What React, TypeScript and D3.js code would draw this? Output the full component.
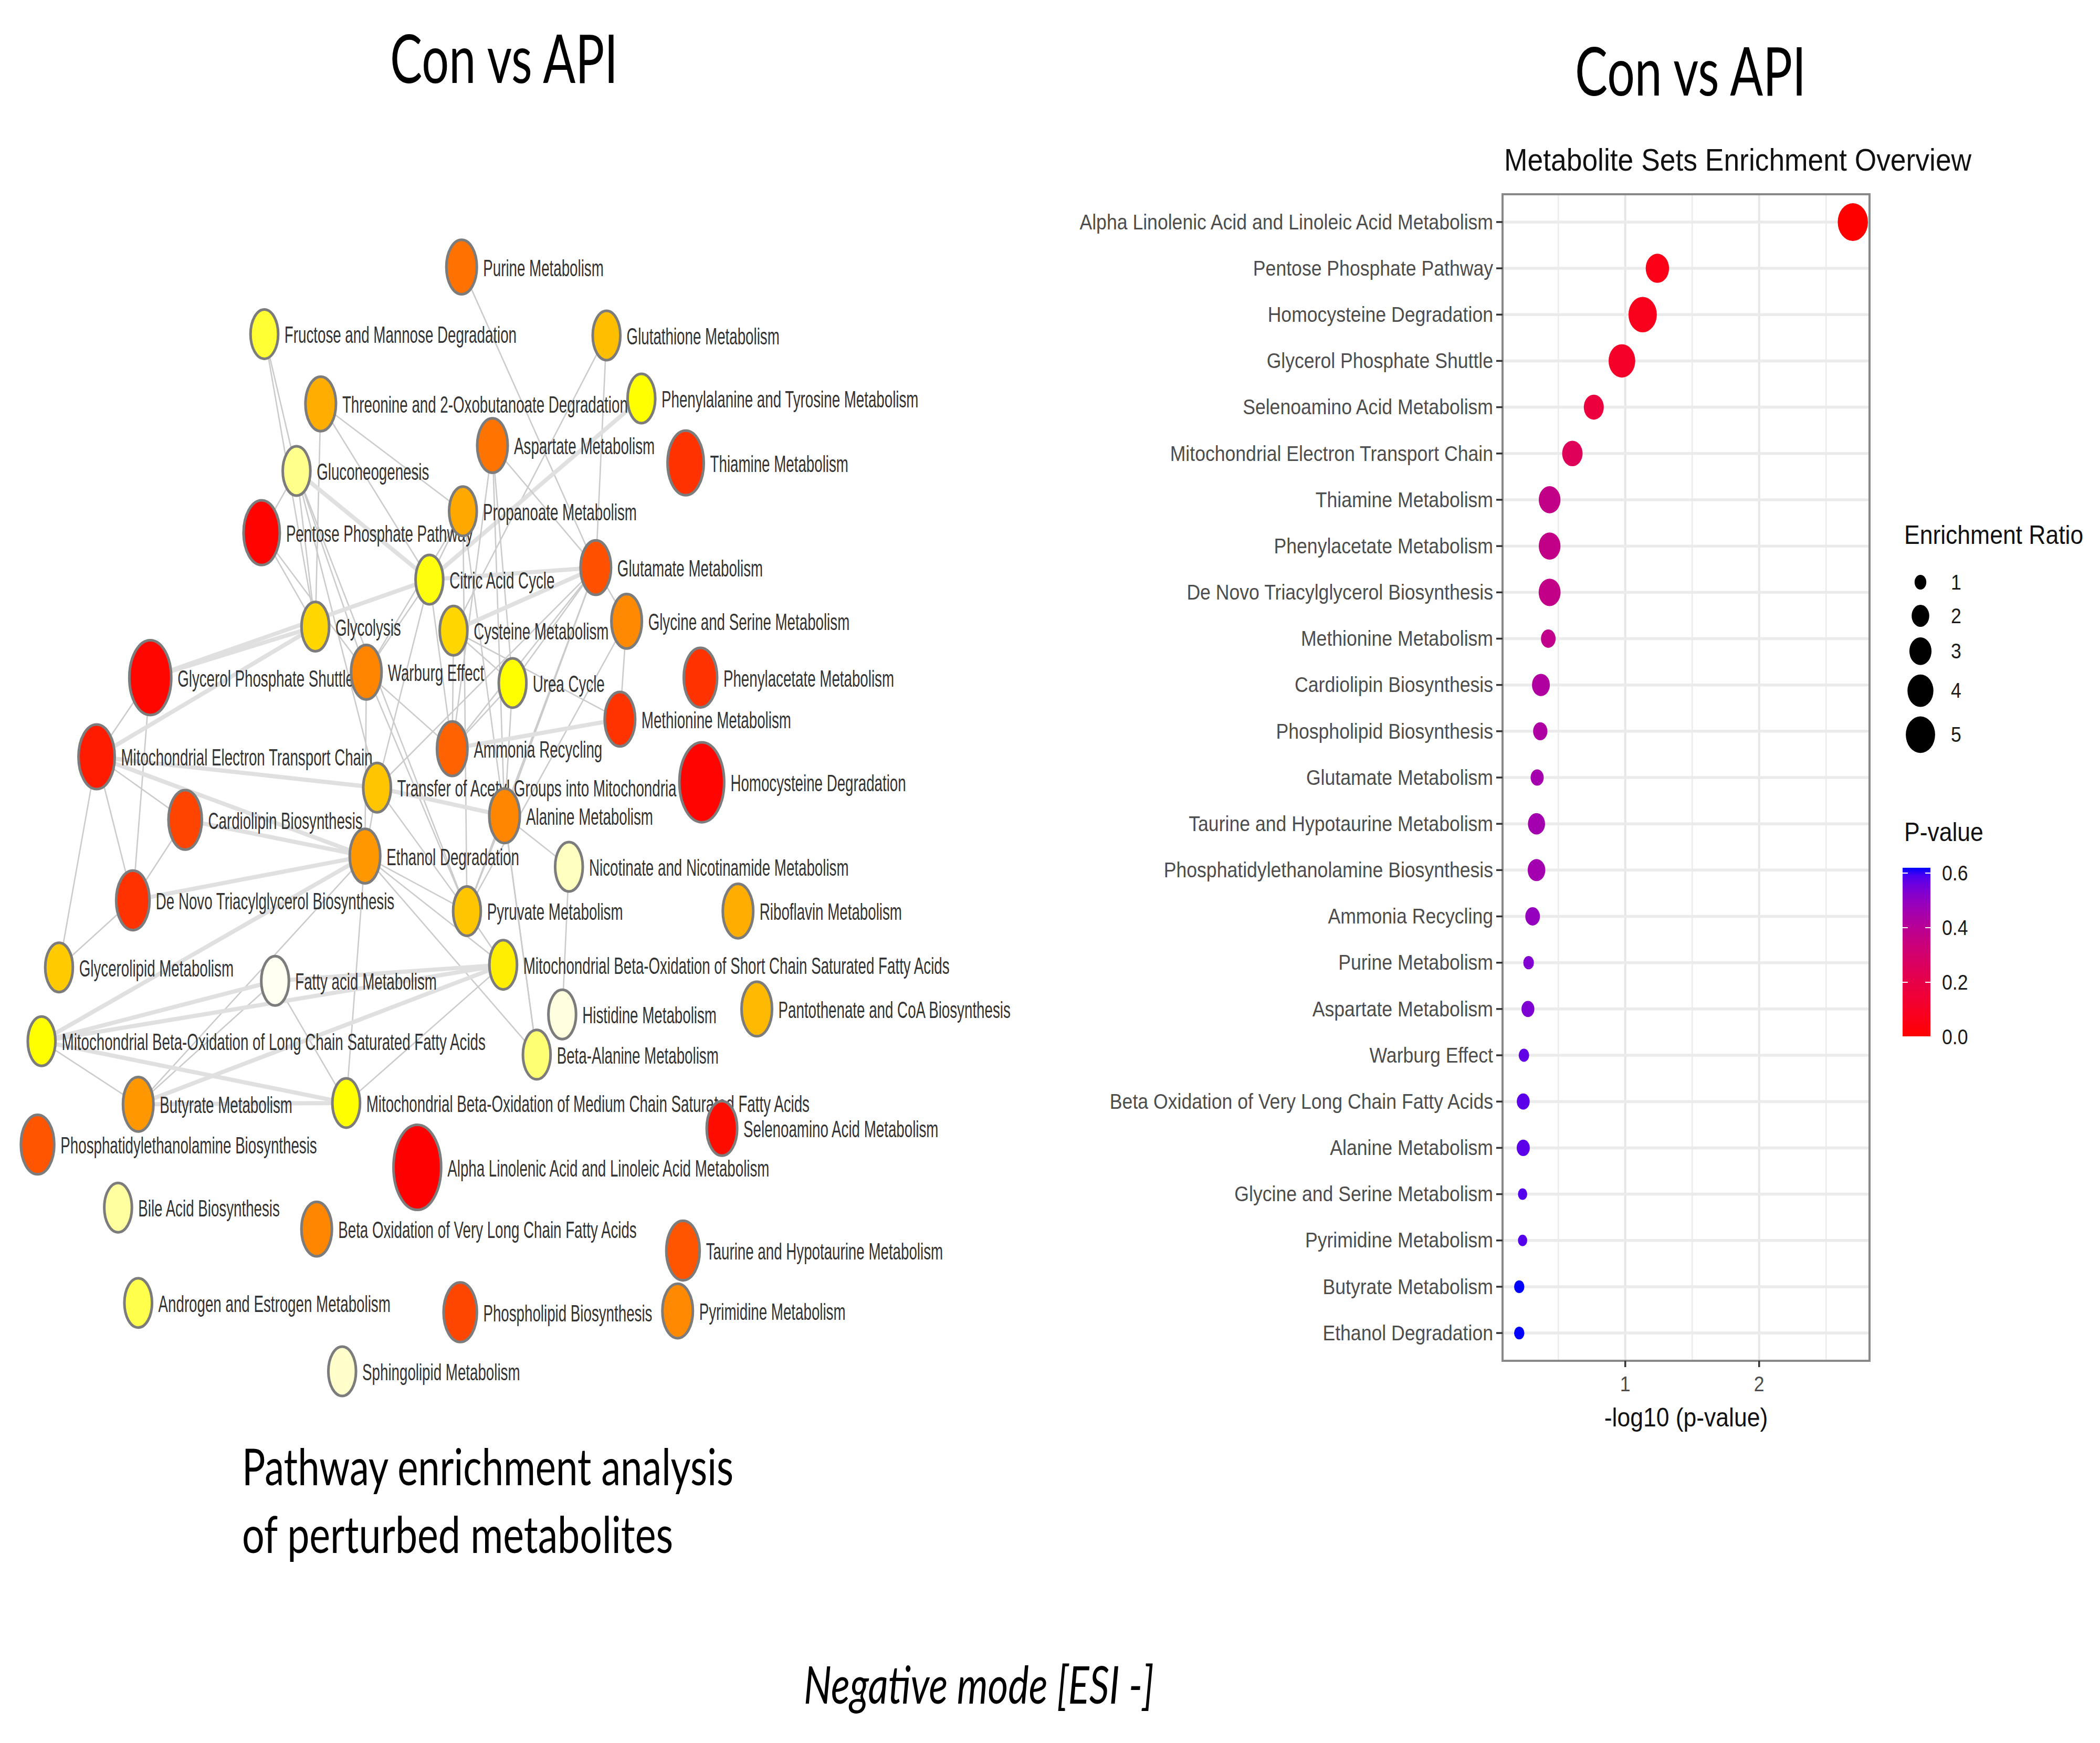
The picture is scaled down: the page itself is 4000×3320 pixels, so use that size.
import * as d3 from "d3";
import React from "react";

const W = 4000;
const H = 3320;

// ---------------- right: metabolite sets enrichment overview ----------------
const pathways = [
  "Alpha Linolenic Acid and Linoleic Acid Metabolism",
  "Pentose Phosphate Pathway",
  "Homocysteine Degradation",
  "Glycerol Phosphate Shuttle",
  "Selenoamino Acid Metabolism",
  "Mitochondrial Electron Transport Chain",
  "Thiamine Metabolism",
  "Phenylacetate Metabolism",
  "De Novo Triacylglycerol Biosynthesis",
  "Methionine Metabolism",
  "Cardiolipin Biosynthesis",
  "Phospholipid Biosynthesis",
  "Glutamate Metabolism",
  "Taurine and Hypotaurine Metabolism",
  "Phosphatidylethanolamine Biosynthesis",
  "Ammonia Recycling",
  "Purine Metabolism",
  "Aspartate Metabolism",
  "Warburg Effect",
  "Beta Oxidation of Very Long Chain Fatty Acids",
  "Alanine Metabolism",
  "Glycine and Serine Metabolism",
  "Pyrimidine Metabolism",
  "Butyrate Metabolism",
  "Ethanol Degradation",
];
const negLog10P = [
  2.7, 1.24, 1.13, 0.975, 0.765, 0.605, 0.435, 0.435, 0.435, 0.425, 0.37, 0.365, 0.342,
  0.337, 0.337, 0.308, 0.278, 0.273, 0.243, 0.238, 0.238, 0.233, 0.233, 0.208, 0.208,
];
const enrichmentRatio = [
  5.3, 3.3, 4.7, 4.2, 2.5, 2.6, 2.9, 2.9, 2.95, 1.45, 2.05, 1.4, 1.2, 1.9, 2.0, 1.45, 0.85,
  1.17, 0.83, 1.17, 1.2, 0.68, 0.68, 0.8, 0.8,
];
const sizeBreaks = [1, 2, 3, 4, 5];
const pBreaks = [0, 0.2, 0.4, 0.6];
const xMajor = [1, 2];
const xMinor = [0.5, 1.5, 2.5];

// ---------------- left: pathway network ----------------
// [id, label, layout x, layout y, hits]
const netNodes: [string, string, number, number, number][] = [
  ["pur", "Purine Metabolism", 344, 199, 2],
  ["fru", "Fructose and Mannose Degradation", 197, 249, 1],
  ["gth", "Glutathione Metabolism", 452, 250, 1],
  ["thr", "Threonine and 2-Oxobutanoate Degradation", 239, 301, 2],
  ["phe", "Phenylalanine and Tyrosine Metabolism", 478, 297, 1],
  ["asp", "Aspartate Metabolism", 367, 332, 2],
  ["thi", "Thiamine Metabolism", 511, 345, 4],
  ["gng", "Gluconeogenesis", 221, 351, 1],
  ["ppp", "Pentose Phosphate Pathway", 195, 397, 4],
  ["pro", "Propanoate Metabolism", 345, 381, 1],
  ["tca", "Citric Acid Cycle", 320, 432, 1],
  ["glu", "Glutamate Metabolism", 444, 423, 2],
  ["gly", "Glycolysis", 235, 467, 1],
  ["cys", "Cysteine Metabolism", 338, 470, 1],
  ["gls", "Glycine and Serine Metabolism", 467, 463, 2],
  ["gps", "Glycerol Phosphate Shuttle", 112, 505, 6],
  ["war", "Warburg Effect", 273, 501, 2],
  ["ure", "Urea Cycle", 382, 509, 1],
  ["pac", "Phenylacetate Metabolism", 522, 505, 3],
  ["met", "Methionine Metabolism", 462, 536, 2],
  ["etc", "Mitochondrial Electron Transport Chain", 72, 564, 4],
  ["amm", "Ammonia Recycling", 337, 558, 2],
  ["hcy", "Homocysteine Degradation", 523, 583, 7],
  ["tac", "Transfer of Acetyl Groups into Mitochondria", 281, 587, 1],
  ["cl", "Cardiolipin Biosynthesis", 138, 611, 3],
  ["ala", "Alanine Metabolism", 376, 608, 2],
  ["eth", "Ethanol Degradation", 272, 638, 2],
  ["nic", "Nicotinate and Nicotinamide Metabolism", 424, 646, 1],
  ["dnt", "De Novo Triacylglycerol Biosynthesis", 99, 671, 3],
  ["pyr", "Pyruvate Metabolism", 348, 679, 1],
  ["rib", "Riboflavin Metabolism", 550, 679, 2],
  ["glp", "Glycerolipid Metabolism", 44, 721, 1],
  ["fam", "Fatty acid Metabolism", 205, 731, 1],
  ["mbs", "Mitochondrial Beta-Oxidation of Short Chain Saturated Fatty Acids", 375, 719, 1],
  ["his", "Histidine Metabolism", 419, 756, 1],
  ["pan", "Pantothenate and CoA Biosynthesis", 564, 752, 2],
  ["mbl", "Mitochondrial Beta-Oxidation of Long Chain Saturated Fatty Acids", 31, 776, 1],
  ["bal", "Beta-Alanine Metabolism", 400, 786, 1],
  ["but", "Butyrate Metabolism", 103, 823, 2],
  ["mbm", "Mitochondrial Beta-Oxidation of Medium Chain Saturated Fatty Acids", 258, 822, 1],
  ["sel", "Selenoamino Acid Metabolism", 538, 841, 2],
  ["pe", "Phosphatidylethanolamine Biosynthesis", 28, 853, 3],
  ["aln", "Alpha Linolenic Acid and Linoleic Acid Metabolism", 311, 870, 8],
  ["bil", "Bile Acid Biosynthesis", 88, 900, 1],
  ["vlc", "Beta Oxidation of Very Long Chain Fatty Acids", 236, 916, 2],
  ["tau", "Taurine and Hypotaurine Metabolism", 509, 932, 3],
  ["and", "Androgen and Estrogen Metabolism", 103, 971, 1],
  ["pl", "Phospholipid Biosynthesis", 343, 978, 3],
  ["pym", "Pyrimidine Metabolism", 505, 977, 2],
  ["sph", "Sphingolipid Metabolism", 255, 1022, 1],
];

// p-values of network pathways that are not in the overview list
const otherP: Record<string, number> = {
  fru: 0.84, gth: 0.69, thr: 0.66, phe: 0.8, gng: 0.91, pro: 0.65, tca: 0.81, gly: 0.73,
  cys: 0.73, ure: 0.8, tac: 0.7, nic: 0.95, pyr: 0.7, rib: 0.66, glp: 0.71, fam: 0.99,
  mbs: 0.77, his: 0.975, pan: 0.68, mbl: 0.8, bal: 0.89, mbm: 0.8, bil: 0.925, and: 0.86,
  sph: 0.96,
};

// [source, target, weight]
const netEdges: [string, string, number][] = [
  ["pur", "glu", 1], ["fru", "gly", 1], ["fru", "gng", 1], ["gth", "glu", 1], ["gth", "cys", 1],
  ["thr", "tca", 1], ["thr", "pro", 1], ["thr", "gly", 1], ["phe", "tca", 2],
  ["asp", "glu", 1], ["asp", "amm", 1], ["asp", "ala", 1], ["asp", "ure", 1],
  ["gng", "gly", 1], ["gng", "war", 1], ["gng", "tca", 2], ["gng", "pyr", 1], ["gng", "tac", 1],
  ["ppp", "gly", 1], ["ppp", "war", 1], ["ppp", "gng", 1],
  ["pro", "tca", 1], ["pro", "pyr", 1], ["pro", "war", 1], ["pro", "bal", 1],
  ["tca", "glu", 2], ["tca", "war", 1], ["tca", "gps", 2], ["tca", "tac", 1], ["tca", "amm", 1],
  ["glu", "cys", 2], ["glu", "ure", 1], ["glu", "amm", 1], ["glu", "ala", 1], ["glu", "gls", 1],
  ["glu", "tac", 1], ["glu", "pyr", 1], ["cys", "met", 1], ["cys", "ure", 1], ["cys", "amm", 1],
  ["gls", "met", 1], ["gls", "pyr", 1], ["gps", "etc", 1], ["gps", "dnt", 1], ["gps", "gly", 2],
  ["war", "eth", 1], ["war", "pyr", 1], ["war", "amm", 1], ["ure", "amm", 1], ["ure", "ala", 1],
  ["met", "amm", 2], ["etc", "cl", 1], ["etc", "dnt", 1], ["etc", "glp", 1], ["etc", "tac", 2],
  ["etc", "eth", 2], ["etc", "gly", 2], ["cl", "eth", 2], ["cl", "dnt", 1],
  ["tac", "ala", 2], ["tac", "pyr", 1], ["tac", "eth", 1], ["ala", "nic", 1], ["ala", "bal", 1],
  ["ala", "pyr", 1], ["eth", "pyr", 1], ["eth", "mbs", 1], ["eth", "mbl", 2], ["eth", "but", 1],
  ["eth", "mbm", 1], ["eth", "bal", 1], ["eth", "dnt", 2], ["nic", "his", 1], ["dnt", "glp", 1],
  ["fam", "mbs", 2], ["fam", "mbl", 2], ["fam", "but", 1], ["fam", "mbm", 1],
  ["mbs", "mbl", 2], ["mbs", "but", 2], ["mbs", "mbm", 1], ["mbs", "pyr", 1],
  ["mbl", "but", 1], ["mbl", "mbm", 2], ["but", "mbm", 2],
];

const calibriLike = "Lato, 'Open Sans', sans-serif";
const arialLike = "'Liberation Sans', Arial, Helvetica, sans-serif";

export default function App() {
  // ----- overview scales -----
  const panel = { left: 2862, right: 3561, top: 370, bottom: 2592 };
  const [vMin, vMax] = d3.extent(negLog10P) as [number, number];
  const pad = (vMax - vMin) * 0.05;
  const x = d3.scaleLinear().domain([vMin - pad, vMax + pad]).range([panel.left, panel.right]);
  const y = d3.scalePoint<string>().domain(pathways).range([panel.top, panel.bottom]).padding(0.6);
  const pValues = negLog10P.map((v) => Math.pow(10, -v));
  const [pMin, pMax] = d3.extent(pValues) as [number, number];
  const pColor = d3
    .scalePow<string>()
    .exponent(1.35)
    .domain([pMin, pMax])
    .range(["#ff0000", "#0000ff"])
    .interpolate(d3.interpolateLab)
    .clamp(true);
  const sqrtExtent = d3.extent(enrichmentRatio.map(Math.sqrt)) as [number, number];
  const rScale = d3.scaleLinear().domain(sqrtExtent).range([11, 36]);
  const dotR = (e: number) => rScale(Math.sqrt(e));
  const squeeze = 0.89;
  const dotAspect = 0.8;

  // legend
  const legendX = 3627;
  const keyHeights = sizeBreaks.map((b) => Math.max(64, 2 * dotR(b) + 18));
  const keyY: number[] = [];
  sizeBreaks.forEach((_, i) => {
    keyY.push(i === 0 ? 1109 : keyY[i - 1] + (keyHeights[i - 1] + keyHeights[i]) / 2);
  });
  const barY = d3.scaleLinear().domain([0, 0.6]).range([1975, 1663]);
  const barX0 = 3624;
  const barW = 53;
  const gradStops = d3.range(0, 1.0001, 0.05);

  // ----- network scales -----
  const nx = d3.scaleLinear().domain([0, 1565]).range([0, W]);
  const ny = d3.scaleLinear().domain([0, 1299]).range([0, H]);
  const ryScale = d3.scaleLinear().domain([1, 8]).range([47, 81]);
  const netColor = d3
    .scaleLinear<string>()
    .domain([0, 0.15, 0.4, 0.5, 0.63, 0.8, 1])
    .range(["#ff0000", "#ff0800", "#ff3800", "#ff6600", "#ff9c00", "#ffff00", "#ffffff"]);
  const overviewP = new Map(pathways.map((p, i) => [p, pValues[i]]));
  const nodes = netNodes.map(([id, label, lx, ly, hits]) => ({
    id,
    label,
    x: nx(lx),
    y: ny(ly),
    ry: ryScale(hits),
    p: overviewP.get(label) ?? otherP[id],
  }));
  const byId = new Map(nodes.map((n) => [n.id, n]));
  const nodeAspect = 0.56;
  const labelSqueeze = 0.63;

  return (
    <svg
      width={W}
      height={H}
      viewBox={`0 0 ${W} ${H}`}
      style={{ position: "absolute", left: 0, top: 0, display: "block" }}
    >
      <rect width={W} height={H} fill="#ffffff" />
      <defs>
        <linearGradient id="pbar" x1="0" y1="1" x2="0" y2="0">
          {gradStops.map((t) => (
            <stop key={t} offset={t} stopColor={pColor(pMin + t * (pMax - pMin))} />
          ))}
        </linearGradient>
      </defs>

      {/* headings */}
      <text x={743} y={158} fontFamily={calibriLike} fontSize={128} textLength={434} lengthAdjust="spacingAndGlyphs">
        Con vs API
      </text>
      <text x={3000} y={182} fontFamily={calibriLike} fontSize={128} textLength={440} lengthAdjust="spacingAndGlyphs">
        Con vs API
      </text>
      <text x={461} y={2829} fontFamily={calibriLike} fontSize={97} textLength={936} lengthAdjust="spacingAndGlyphs">
        Pathway enrichment analysis
      </text>
      <text x={461} y={2958} fontFamily={calibriLike} fontSize={97} textLength={821} lengthAdjust="spacingAndGlyphs">
        of perturbed metabolites
      </text>
      <text
        x={1531}
        y={3245}
        fontFamily={calibriLike}
        fontStyle="italic"
        fontSize={100}
        textLength={667}
        lengthAdjust="spacingAndGlyphs"
      >
        Negative mode [ESI -]
      </text>

      {/* ---------- network ---------- */}
      <g>
        {netEdges.map(([s, t, w], i) => {
          const a = byId.get(s)!;
          const b = byId.get(t)!;
          return (
            <line
              key={`e${i}`}
              x1={a.x}
              y1={a.y}
              x2={b.x}
              y2={b.y}
              stroke={w > 1 ? "#e0e0e0" : "#cbcbcb"}
              strokeWidth={w > 1 ? 8 : 2.6}
            />
          );
        })}
      </g>
      <g fontFamily={arialLike} fontSize={44} fill="#333333">
        {nodes.map((n) => (
          <text
            key={`l${n.id}`}
            transform={`translate(${n.x + n.ry * nodeAspect + 12},${n.y + 2}) scale(${labelSqueeze},1)`}
            dominantBaseline="central"
          >
            {n.label}
          </text>
        ))}
      </g>
      <g>
        {nodes.map((n) => (
          <ellipse
            key={`n${n.id}`}
            cx={n.x}
            cy={n.y}
            rx={n.ry * nodeAspect}
            ry={n.ry}
            fill={netColor(n.p)}
            stroke="#7c7c7c"
            strokeWidth={5}
          />
        ))}
      </g>

      {/* ---------- enrichment overview ---------- */}
      <text
        transform={`translate(${panel.left + 3},325) scale(${squeeze},1)`}
        fontFamily={arialLike}
        fontSize={60}
        fill="#111"
      >
        Metabolite Sets Enrichment Overview
      </text>
      <rect
        x={panel.left}
        y={panel.top}
        width={panel.right - panel.left}
        height={panel.bottom - panel.top}
        fill="#ffffff"
      />
      {xMinor.map((v) => (
        <line key={`xm${v}`} x1={x(v)} x2={x(v)} y1={panel.top} y2={panel.bottom} stroke="#ebebeb" strokeWidth={2.5} />
      ))}
      {xMajor.map((v) => (
        <line key={`xM${v}`} x1={x(v)} x2={x(v)} y1={panel.top} y2={panel.bottom} stroke="#e6e6e6" strokeWidth={4} />
      ))}
      {pathways.map((p) => (
        <line key={`yg${p}`} x1={panel.left} x2={panel.right} y1={y(p)} y2={y(p)} stroke="#ebebeb" strokeWidth={5.5} />
      ))}
      {pathways.map((p, i) => {
        const r = dotR(enrichmentRatio[i]);
        return (
          <ellipse
            key={`d${p}`}
            cx={x(negLog10P[i])}
            cy={y(p)!}
            rx={r * dotAspect}
            ry={r}
            fill={pColor(pValues[i])}
          />
        );
      })}
      <rect
        x={panel.left}
        y={panel.top}
        width={panel.right - panel.left}
        height={panel.bottom - panel.top}
        fill="none"
        stroke="#888888"
        strokeWidth={4}
      />
      {/* y axis */}
      {pathways.map((p) => (
        <g key={`yt${p}`}>
          <line x1={panel.left - 12} x2={panel.left} y1={y(p)} y2={y(p)} stroke="#333" strokeWidth={3.5} />
          <text
            transform={`translate(${panel.left - 18},${y(p)}) scale(${squeeze},1)`}
            textAnchor="end"
            dominantBaseline="central"
            fontFamily={arialLike}
            fontSize={40}
            fill="#4d4d4d"
          >
            {p}
          </text>
        </g>
      ))}
      {/* x axis */}
      {xMajor.map((v) => (
        <g key={`xt${v}`}>
          <line x1={x(v)} x2={x(v)} y1={panel.bottom} y2={panel.bottom + 12} stroke="#333" strokeWidth={3.5} />
          <text
            transform={`translate(${x(v)},${panel.bottom + 58}) scale(${squeeze},1)`}
            textAnchor="middle"
            fontFamily={arialLike}
            fontSize={40}
            fill="#4d4d4d"
          >
            {v}
          </text>
        </g>
      ))}
      <text
        transform={`translate(${(panel.left + panel.right) / 2},2717) scale(${squeeze},1)`}
        textAnchor="middle"
        fontFamily={arialLike}
        fontSize={50}
        fill="#111"
      >
        -log10 (p-value)
      </text>

      {/* legend: enrichment ratio */}
      <text
        transform={`translate(${legendX},1036) scale(${squeeze},1)`}
        fontFamily={arialLike}
        fontSize={50}
        fill="#111"
      >
        Enrichment Ratio
      </text>
      {sizeBreaks.map((b, i) => (
        <g key={`sb${b}`}>
          <ellipse cx={3658} cy={keyY[i]} rx={dotR(b) * dotAspect} ry={dotR(b)} fill="#000" />
          <text
            transform={`translate(3716,${keyY[i]}) scale(${squeeze},1)`}
            dominantBaseline="central"
            fontFamily={arialLike}
            fontSize={40}
            fill="#1a1a1a"
          >
            {b}
          </text>
        </g>
      ))}

      {/* legend: p-value */}
      <text
        transform={`translate(${legendX},1602) scale(${squeeze},1)`}
        fontFamily={arialLike}
        fontSize={50}
        fill="#111"
      >
        P-value
      </text>
      <rect
        x={barX0}
        y={barY(pMax)}
        width={barW}
        height={barY(pMin) - barY(pMax)}
        fill="url(#pbar)"
      />
      {pBreaks.map((b) => (
        <g key={`pb${b}`}>
          <line x1={barX0} x2={barX0 + 10} y1={barY(b)} y2={barY(b)} stroke="#ffffff" strokeWidth={2} />
          <line x1={barX0 + barW - 10} x2={barX0 + barW} y1={barY(b)} y2={barY(b)} stroke="#ffffff" strokeWidth={2} />
          <text
            transform={`translate(3699,${barY(b)}) scale(${squeeze},1)`}
            dominantBaseline="central"
            fontFamily={arialLike}
            fontSize={40}
            fill="#1a1a1a"
          >
            {b.toFixed(1)}
          </text>
        </g>
      ))}
    </svg>
  );
}
